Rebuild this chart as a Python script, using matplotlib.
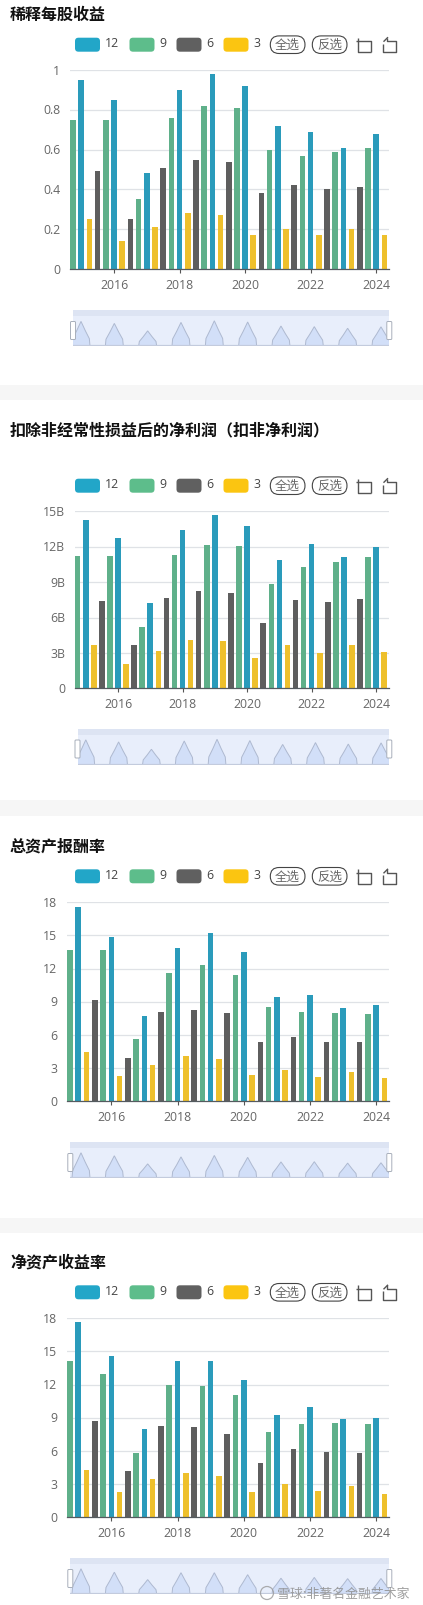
import matplotlib
matplotlib.use('Agg')
import matplotlib.pyplot as plt
import numpy as np
from matplotlib.patches import FancyBboxPatch, Rectangle, Circle
from matplotlib.transforms import ScaledTranslation

plt.rcParams['font.family'] = ['Noto Sans CJK SC', 'DejaVu Sans']

W, H = 423, 1606

years = np.arange(2015, 2025)
tick_years = [2016, 2018, 2020, 2022, 2024]

# diluted EPS
eps_12 = [0.95, 0.85, 0.48, 0.90, 0.98, 0.92, 0.72, 0.69, 0.61, 0.68]
eps_9 = [0.75, 0.75, 0.35, 0.76, 0.82, 0.81, 0.60, 0.57, 0.59, 0.61]
eps_6 = [0.49, 0.25, 0.51, 0.55, 0.54, 0.38, 0.42, 0.40, 0.41]
eps_3 = [0.25, 0.14, 0.21, 0.28, 0.27, 0.17, 0.20, 0.17, 0.20, 0.17]

# net profit excl. non-recurring, in billions
np_12 = [14.27, 12.7, 7.26, 13.4, 14.66, 13.73, 10.85, 12.2, 11.13, 11.98]
np_9 = [11.2, 11.2, 5.2, 11.3, 12.15, 12.06, 8.84, 10.3, 10.7, 11.16]
np_6 = [7.4, 3.7, 7.65, 8.25, 8.08, 5.54, 7.49, 7.29, 7.57]
np_3 = [3.7, 2.06, 3.2, 4.12, 4.0, 2.54, 3.67, 3.02, 3.67, 3.05]

# return on total assets
roa_12 = [17.55, 14.9, 7.7, 13.9, 15.2, 13.5, 9.45, 9.65, 8.4, 8.7]
roa_9 = [13.7, 13.7, 5.6, 11.6, 12.3, 11.45, 8.5, 8.05, 8.0, 7.9]
roa_6 = [9.15, 3.95, 8.1, 8.25, 8.0, 5.4, 5.85, 5.4, 5.35]
roa_3 = [4.5, 2.3, 3.3, 4.1, 3.8, 2.35, 2.85, 2.2, 2.65, 2.1]

# return on equity
roe_12 = [17.65, 14.6, 8.0, 14.15, 14.15, 12.4, 9.25, 9.95, 8.85, 9.0]
roe_9 = [14.15, 13.0, 5.8, 12.0, 11.9, 11.1, 7.7, 8.4, 8.55, 8.45]
roe_6 = [8.75, 4.2, 8.3, 8.2, 7.55, 4.9, 6.2, 5.9, 5.8]
roe_3 = [4.3, 2.3, 3.45, 4.05, 3.7, 2.25, 3.0, 2.4, 2.85, 2.15]

eps_ticks = [0, 0.2, 0.4, 0.6, 0.8, 1]
eps_labels = ['0', '0.2', '0.4', '0.6', '0.8', '1']
np_ticks = [0, 3, 6, 9, 12, 15]
np_labels = ['0', '3B', '6B', '9B', '12B', '15B']
pct_ticks = [0, 3, 6, 9, 12, 15, 18]
pct_labels = ['0', '3', '6', '9', '12', '15', '18']

titles = ['稀释每股收益', '扣除非经常性损益后的净利润\uff08扣非净利润\uff09', '总资产报酬率', '净资产收益率']
legend_names = ['12', '9', '6', '3']
bar_colors = ['#2a9bbb', '#5fb08a', '#5e5e5e', '#eec02c']
legend_colors = ['#22a6c8', '#5dbd8b', '#606060', '#fbc511']
text_color = '#666666'


def px_axes(fig, x0, y0, x1, y1, **kw):
    # axes placed by pixel box, y measured from the top of the image
    return fig.add_axes([x0 / W, 1 - y1 / H, (x1 - x0) / W, (y1 - y0) / H], **kw)


fig = plt.figure(figsize=(W / 100, H / 100), dpi=100, facecolor='white')

over = fig.add_axes([0, 0, 1, 1], zorder=10)
over.set_xlim(0, W)
over.set_ylim(H, 0)
over.axis('off')
over.patch.set_alpha(0)

for y0, y1 in [(386, 401), (801, 817), (1219, 1234)]:
    over.add_patch(Rectangle((0, y0), W, y1 - y0, color='#f6f6f6', lw=0))


def draw_chart(i, s12, s9, s6, s3, ticks, labels, left, top, bottom, x2016, title_y, legend_y, slide_x, slide_y):
    x2024, right = 376.2, 388.5
    ppy = (x2024 - x2016) / 8
    ax = px_axes(fig, left, top, right, bottom)
    ax.set_xlim(2016 - (x2016 - left) / ppy, 2024 + (right - x2024) / ppy)
    ax.set_ylim(0, ticks[-1])
    ax.patch.set_alpha(0)

    bw = 5.6 / ppy
    ax.bar(years, s12, bw, color=bar_colors[0], zorder=3)
    ax.bar(years - 0.25, s9, bw, color=bar_colors[1], zorder=3)
    ax.bar(years[:len(s6)] + 0.5, s6, bw, color=bar_colors[2], zorder=3)
    ax.bar(years + 0.25, s3, bw, color=bar_colors[3], zorder=3)

    ax.set_yticks(ticks)
    ax.set_yticklabels(labels, fontsize=8.8, color=text_color, family=['Open Sans', 'DejaVu Sans'])
    ax.set_xticks(tick_years)
    ax.set_xticklabels([str(y) for y in tick_years], fontsize=8.8, color=text_color, family=['Open Sans', 'DejaVu Sans'])
    ax.tick_params(axis='y', length=0, pad=7)
    ax.tick_params(axis='x', length=3.2, width=0.8, color='#555555', pad=3)
    for lab in ax.get_yticklabels():
        lab.set_transform(lab.get_transform() + ScaledTranslation(0, 1.3 / 100, fig.dpi_scale_trans))
    ax.grid(axis='y', color='#dfe2e6', lw=0.9, zorder=0)
    ax.set_axisbelow(True)
    for s in ['top', 'right', 'left']:
        ax.spines[s].set_visible(False)
    ax.spines['bottom'].set_color('#555b60')
    ax.spines['bottom'].set_linewidth(0.9)
    ax.spines['bottom'].set_zorder(5)

    over.text(10, title_y, titles[i], fontsize=11.5, fontweight='bold', color='#111111', va='center', ha='left')

    # legend row
    sw_x = [75, 129.5, 176.5, 223.5]
    tx_x = [105, 159, 206, 253]
    for sx, tx, c, n in zip(sw_x, tx_x, legend_colors, legend_names):
        over.add_patch(FancyBboxPatch((sx, legend_y - 7), 25, 14, boxstyle='round,pad=0,rounding_size=3.5',
                                      fc=c, ec='none', lw=0))
        over.text(tx, legend_y - 2, n, fontsize=8.8, color='#444444', va='center', ha='left',
                  family=['Open Sans', 'DejaVu Sans'])
    for bx, t in [(270.3, '全选'), (312.3, '反选')]:
        over.add_patch(FancyBboxPatch((bx, legend_y - 8.8), 34.7, 17.6, boxstyle='round,pad=0,rounding_size=8.8',
                                      fc='white', ec='#444444', lw=0.8))
        over.text(bx + 17.3, legend_y - 0.5, t, fontsize=9, color='#666666', va='center', ha='center')
    # toolbox icons
    ic = dict(color='#555555', lw=1.0, solid_capstyle='butt')
    over.plot([358, 358, 371], [legend_y - 7, legend_y + 7.5, legend_y + 7.5], **ic)
    over.plot([355.5, 370.5, 370.5], [legend_y - 3.5, legend_y - 3.5, legend_y + 7.5], **ic)
    over.plot([387, 387, 395.5, 395.5, 383, 383], [legend_y - 7, legend_y - 3.5, legend_y - 3.5, legend_y + 7.5,
                                                   legend_y + 7.5, legend_y - 1], **ic)
    over.plot([388, 383.5], [legend_y - 7.5, legend_y - 3], **ic)

    # data zoom slider, shadow follows the 12 series
    mini = px_axes(fig, slide_x, slide_y, 389.3, slide_y + 36)
    if i == 1:
        mini.set_xlim(2015 - (257 / 3 - slide_x) / (97 / 3), 2024.25)
    else:
        mini.set_xlim(2015 - (243 / 3 - slide_x) / (100 / 3), 2024.25)
    vmax = max(s12)
    base = -0.275 * vmax
    mini.set_ylim(base, base + 1.82 * vmax)
    mini.axis('off')
    mini.add_patch(Rectangle((0, 0), 1, 1, transform=mini.transAxes, fc='#e8eefb', ec='none'))
    mini.add_patch(Rectangle((0, 0.82), 1, 0.18, transform=mini.transAxes, fc='#dde4f3', ec='none'))
    for yr, v in zip(years, s12):
        h = v - base
        px = [yr - 0.27, yr - 0.25, yr - 0.13, yr, yr + 0.13, yr + 0.25, yr + 0.27]
        py = [base, base + 0.3 * h, base + 0.62 * h, v, base + 0.62 * h, base + 0.3 * h, base]
        mini.fill(px, py, fc='#d2dff8', ec='#aeb9d0', lw=0.7)
    mini.axhline(base, color='#c3cbdd', lw=1.6)
    cy = slide_y + 20.5
    for hx in [slide_x, 389.3]:
        over.add_patch(FancyBboxPatch((hx - 2.5, cy - 9), 5, 18, boxstyle='round,pad=0,rounding_size=1',
                                      fc='white', ec='#a8afbb', lw=0.7))


draw_chart(0, eps_12, eps_9, eps_6, eps_3, eps_ticks, eps_labels, 70, 71, 270, 114, 14.5, 45.7, 73, 311)
draw_chart(1, np_12, np_9, np_6, np_3, np_ticks, np_labels, 74.7, 512.3, 689.3, 118, 430.7, 486.7, 77.5, 729.5)
draw_chart(2, roa_12, roa_9, roa_6, roa_3, pct_ticks, pct_labels, 67, 903.3, 1102.3, 111.3, 846, 877.3, 70.3, 1143)
draw_chart(3, roe_12, roe_9, roe_6, roe_3, pct_ticks, pct_labels, 67, 1319.3, 1518.3, 111.3, 1262, 1293.3, 70.3, 1559)

# watermark
over.add_patch(Circle((267, 1594), 6.5, fc='none', ec='#9a9a9a', lw=0.9, alpha=0.8))
over.text(277.5, 1594, '雪球:非著名金融艺术家', fontsize=9.3, color='#8f8f8f', alpha=0.85, va='center', ha='left')

fig.savefig('out.png', dpi=100)
